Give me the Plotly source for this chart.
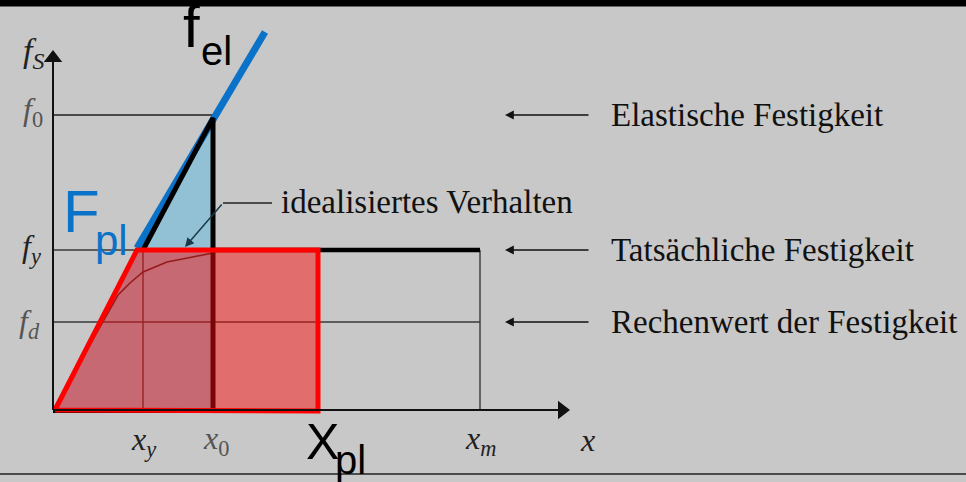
import plotly.graph_objects as go

# ---- schematic values (chart units) ----
X_Y, X_0, X_PL, X_M, X_TIP = 9.0, 16.0, 26.5, 42.7, 51.9
F_D, F_Y, F_0, F_TIP = 8.8, 16.0, 29.5, 36.2

# elastic extension (blue line)
fel_x = [8.4, 21.2]
fel_y = [16.2, 37.8]

# actual (curved) behaviour
curve_x = [0.0, 6.5, 7.7, 9.0, 11.4, 14.7, 16.0]
curve_y = [0.0, 11.5, 12.7, 13.8, 14.8, 15.4, 15.7]

# idealised black path start on f_y
ideal_start_x = 9.0

right_labels = ["Elastische Festigkeit", "Tatsächliche Festigkeit", "Rechenwert der Festigkeit"]
right_levels = [F_0, F_Y, F_D]

BG = "#c8c8c8"
SERIF = "Liberation Serif, Times New Roman, serif"
NARROW = "Liberation Sans Narrow, Arial Narrow, Liberation Sans, Arial, sans-serif"

fig = go.Figure()

def line(xs, ys, color, width, dash=None):
    fig.add_trace(go.Scatter(x=xs, y=ys, mode="lines", hoverinfo="skip",
                             line=dict(color=color, width=width, dash=dash), showlegend=False))

# blue area under elastic line up to x0
fig.add_trace(go.Scatter(x=[0, X_0, X_0, 0], y=[0, F_0, 0, 0], fill="toself",
                         fillcolor="rgb(146,192,212)", mode="lines", line=dict(width=0),
                         hoverinfo="skip", showlegend=False))

# thin construction lines of the original figure
line([0, X_0], [F_0, F_0], "#4a4a4a", 2.2)
line([0, X_M], [F_Y, F_Y], "#3a3a3a", 1.6)
line([0, X_M], [F_D, F_D], "#3a3a3a", 1.6)
line([X_Y, X_Y], [0, F_Y], "#3a3a3a", 1.4)
line([X_M, X_M], [0, F_Y], "#3a3a3a", 1.4)
line(curve_x, curve_y, "#3a2a2a", 1.6)

# blue elastic line
line(fel_x, fel_y, "#0a72c8", 7)

# idealised behaviour (black, thick)
line([ideal_start_x, X_0, X_0], [F_Y, F_0 - 0.3, 0], "black", 5)
line([0, X_0], [-0.1, -0.1], "black", 4)
line([X_0, X_M], [F_Y, F_Y], "black", 4.5)

# red plastic area
fig.add_trace(go.Scatter(x=[0.2, 8.4, X_PL, X_PL, 0.2], y=[0, F_Y, F_Y, -0.1, 0],
                         fill="toself", fillcolor="rgba(255,10,10,0.48)", mode="lines",
                         line=dict(color="#ff0000", width=5), hoverinfo="skip", showlegend=False))

# axes with arrow heads
line([0, X_TIP - 1.0], [0, 0], "#111", 2)
line([0, 0], [0, F_TIP - 1.0], "#111", 2)
fig.add_trace(go.Scatter(x=[X_TIP - 1.0], y=[0], mode="markers", hoverinfo="skip", showlegend=False,
                         marker=dict(symbol="triangle-right", size=16, color="#111")))
fig.add_trace(go.Scatter(x=[0], y=[F_TIP - 1.0], mode="markers", hoverinfo="skip", showlegend=False,
                         marker=dict(symbol="triangle-up", size=16, color="#111")))

# leader for "idealisiertes Verhalten"
line([21.9, 17.0], [20.7, 20.7], "#222", 1.5)

ann = []
ann.append(dict(x=13.2, y=16.3, ax=17.0, ay=20.7, axref="x", ayref="y", xref="x", yref="y",
                text="", showarrow=True, arrowhead=2, arrowsize=1.2, arrowwidth=1.5, arrowcolor="#1a3a4a"))
ann.append(dict(x=22.6, y=20.8, xref="x", yref="y", text="idealisiertes Verhalten", showarrow=False,
                xanchor="left", yanchor="middle", font=dict(family=SERIF, size=33, color="#111")))

for lab, lev in zip(right_labels, right_levels):
    ann.append(dict(x=45.2, y=lev, ax=53.7, ay=lev, axref="x", ayref="y", xref="x", yref="y",
                    text="", showarrow=True, arrowhead=2, arrowsize=1.1, arrowwidth=1.6, arrowcolor="#111"))
    ann.append(dict(x=55.6, y=lev + 0.0, xref="x", yref="y", text=lab, showarrow=False,
                    xanchor="left", yanchor="middle", font=dict(family=SERIF, size=33, color="#111")))

# axis symbols (italic serif)
sym = [
    (-2.0, 35.7, "<i>f</i><sub><i>S</i></sub>", "#222", 34),
    (-2.0, F_0 + 0.4, "<i>f</i><sub>0</sub>", "#555", 32),
    (-2.2, F_Y + 0.2, "<i>f</i><sub><i>y</i></sub>", "#222", 32),
    (-2.4, F_D - 0.1, "<i>f</i><sub><i>d</i></sub>", "#555", 32),
    (X_Y + 0.0, -3.1, "<i>x</i><sub><i>y</i></sub>", "#222", 32),
    (X_0 + 0.3, -3.0, "<i>x</i><sub>0</sub>", "#555", 32),
    (X_M + 0.0, -3.0, "<i>x</i><sub><i>m</i></sub>", "#222", 32),
    (53.4, -3.0, "<i>x</i>", "#222", 32),
]
for x, y, t, c, s in sym:
    ann.append(dict(x=x, y=y, xref="x", yref="y", text=t, showarrow=False,
                    xanchor="center", yanchor="middle", font=dict(family=SERIF, size=s, color=c)))

# big annotation labels (sans)
big = [
    (12.8, 38.4, "f", 60, "black"),
    (14.6, 35.9, "el", 40, "black"),
    (0.8, 19.9, "F", 60, "#0a72c8"),
    (4.0, 17.0, "pl", 42, "#0a72c8"),
    (25.1, -3.2, "X", 50, "black"),
    (28.0, -5.0, "pl", 40, "black"),
]
for x, y, t, s, c in big:
    ann.append(dict(x=x, y=y, xref="x", yref="y", text=t, showarrow=False,
                    xanchor="left", yanchor="middle", font=dict(family=NARROW, size=s, color=c)))

shapes = [
    dict(type="rect", xref="paper", yref="paper", x0=0, x1=1, y0=1 - 6.5 / 482, y1=1,
         fillcolor="black", line=dict(width=0), layer="above"),
    dict(type="line", xref="paper", yref="paper", x0=0, x1=1, y0=8 / 482, y1=8 / 482,
         line=dict(color="#222", width=1.5), layer="below"),
]

fig.update_layout(
    width=966, height=482, margin=dict(l=0, r=0, t=0, b=0),
    paper_bgcolor=BG, plot_bgcolor=BG,
    xaxis=dict(range=[-5.3, 91.3], visible=False, fixedrange=True),
    yaxis=dict(range=[-7.2, 41.0], visible=False, fixedrange=True),
    annotations=ann, shapes=shapes, showlegend=False,
)
fig.write_html("out.html", config={"displayModeBar": False},
               post_script="document.body.style.margin='0';document.body.style.overflow='hidden';")
